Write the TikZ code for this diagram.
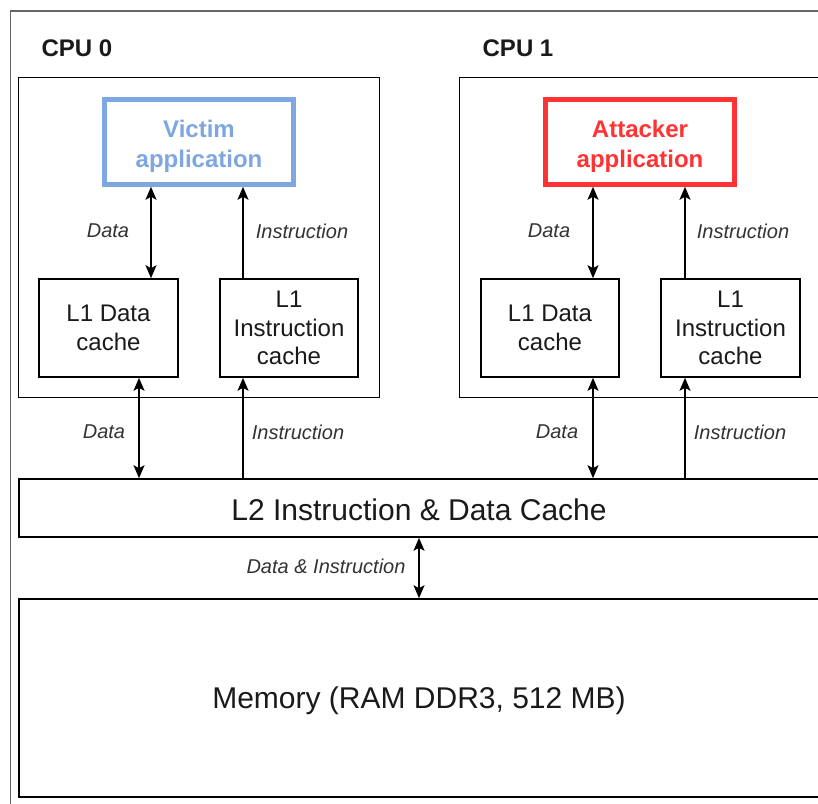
\documentclass[tikz,border=0pt]{standalone}
\usepackage{fontspec}
\setmainfont{Liberation Sans}
\usetikzlibrary{arrows.meta,calc}
\definecolor{victimblue}{HTML}{7EA6E0}
\definecolor{attackred}{HTML}{FF3333}
\definecolor{framegray}{HTML}{666666}
\definecolor{labelgray}{HTML}{333333}
\definecolor{textdark}{HTML}{1A1A1A}
\begin{document}
\begin{tikzpicture}[x=1pt,y=-1pt,
  box/.style={draw=black, line width=1.6pt, inner sep=0pt, align=center, text=textdark,
              font=\fontsize{24}{28.5}\selectfont},
  bigbox/.style={box, font=\fontsize{30}{34}\selectfont},
  appbox/.style={draw=#1, line width=4.5pt, inner sep=0pt, minimum width=189pt, minimum height=85pt},
  apptext/.style={text=#1, align=center, inner sep=0pt, font=\fontsize{24}{30}\selectfont\bfseries},
  cpulabel/.style={font=\fontsize{24}{28}\selectfont\bfseries, text=textdark, inner sep=0pt},
  lab/.style={font=\fontsize{20}{24}\selectfont\itshape, text=labelgray, inner sep=0pt},
  tip/.style={Stealth[length=13pt,width=11pt,inset=3pt]},
  arr/.style={line width=1.6pt, -{Stealth[length=13pt,width=11pt,inset=3pt]}},
  arrb/.style={line width=1.6pt, {Stealth[length=13pt,width=11pt,inset=3pt]}-{Stealth[length=13pt,width=11pt,inset=3pt]}}
]
\useasboundingbox (0,0) rectangle (818,803);
\clip (0,0) rectangle (818,803);
\fill[white] (0,0) rectangle (818,803);
% outer frame
\draw[framegray, line width=1.4pt] (10.5,11) rectangle (828,808);

% CPU boxes
\node[box, minimum width=361pt, minimum height=320pt] (cpu0) at (199,237.5) {};
\node[box, minimum width=361pt, minimum height=320pt] (cpu1) at (640,237.5) {};
\node[cpulabel] (cpu0lab) at (77,48) {CPU 0};
\node[cpulabel] (cpu1lab) at (518,48) {CPU 1};

% applications
\node[appbox=victimblue] (victim) at (199,142) {};
\node[apptext=victimblue] (victimtxt) at (199,146) {Victim\\application};
\node[appbox=attackred] (attacker) at (640,142) {};
\node[apptext=attackred] (attackertxt) at (640,146) {Attacker\\application};

% L1 caches
\node[box, minimum width=139pt, minimum height=98pt] (l1d0) at (108.5,328) {L1 Data\\cache};
\node[box, minimum width=138pt, minimum height=98pt] (l1i0) at (289,328) {L1\\Instruction\\cache};
\node[box, minimum width=138pt, minimum height=98pt] (l1d1) at (550,328) {L1 Data\\cache};
\node[box, minimum width=139pt, minimum height=98pt] (l1i1) at (730.5,328) {L1\\Instruction\\cache};

% L2 and memory
\node[bigbox, minimum width=800pt, minimum height=58pt, text height=24pt, text depth=0pt] (l2) at (419,508) {L2 Instruction \& Data Cache};
\node[bigbox, minimum width=800pt, minimum height=198pt, text depth=0pt] (mem) at (419,698) {Memory (RAM DDR3, 512 MB)};

% x positions of connectors
\coordinate (xa) at (151,0);
\coordinate (xb) at (243,0);
\coordinate (xc) at (139,0);
\coordinate (xd) at (593,0);
\coordinate (xe) at (685,0);

% CPU 0 upper
\draw[arrb] (victim.south -| xa) -- (l1d0.north -| xa);
\draw[arr] (l1i0.north -| xb) -- (victim.south -| xb);
% CPU 1 upper
\draw[arrb] (attacker.south -| xd) -- (l1d1.north -| xd);
\draw[arr] (l1i1.north -| xe) -- (attacker.south -| xe);
% to L2
\draw[arrb] (l1d0.south -| xc) -- (l2.north -| xc);
\draw[arr] (l2.north -| xb) -- (l1i0.south -| xb);
\draw[arrb] (l1d1.south -| xd) -- (l2.north -| xd);
\draw[arr] (l2.north -| xe) -- (l1i1.south -| xe);
% to memory
\draw[arrb] (l2.south) -- (mem.north);

% labels
\node[lab] (lb1) at (108,231) {Data};
\node[lab] (lb2) at (302,231) {Instruction};
\node[lab] (lb3) at (549,231) {Data};
\node[lab] (lb4) at (743,231) {Instruction};
\node[lab] (lb5) at (104,432) {Data};
\node[lab] (lb6) at (298,432) {Instruction};
\node[lab] (lb7) at (557,432) {Data};
\node[lab] (lb8) at (740,432) {Instruction};
\node[lab] (lb9) at (326,566) {Data \& Instruction};
\end{tikzpicture}
\end{document}
